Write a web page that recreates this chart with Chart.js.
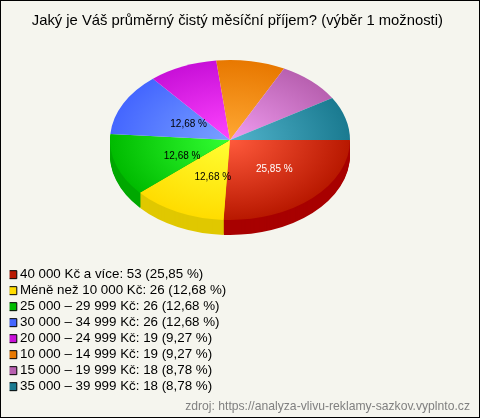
<!DOCTYPE html>
<html>
<head>
<meta charset="utf-8">
<style>
html,body{margin:0;padding:0;background:#f5f5ee}
canvas{display:block}
</style>
<script src="https://cdn.jsdelivr.net/npm/chart.js@4/dist/chart.umd.js"></script>
</head>
<body>
<canvas id="c" width="480" height="418"></canvas>
<script>
/* data */
const titleText = "Jaký je Váš průměrný čistý měsíční příjem? (výběr 1 možnosti)";
const sourceText = "zdroj: https://analyza-vlivu-reklamy-sazkov.vyplnto.cz";
const categories = ["40 000 Kč a více","Méně než 10 000 Kč","25 000 – 29 999 Kč","30 000 – 34 999 Kč","20 000 – 24 999 Kč","10 000 – 14 999 Kč","15 000 – 19 999 Kč","35 000 – 39 999 Kč"];
const counts = [53,26,26,26,19,19,18,18];
const percents = ["25,85","12,68","12,68","12,68","9,27","9,27","8,78","8,78"];
const labelled = [true,true,true,true,false,false,false,false];

/* colours */
const inner = ["#ff5a3c","#ffff33","#33ff33","#7aa2ff","#ff44ff","#ffa833","#f09cf0","#52b4cc"];
const rim = ["#b81800","#ffdc00","#00bb00","#4466ff","#c810d8","#e87800","#b860b0","#1a7a90"];
const side = ["#a80000","#e0c800","#00a800","#2244cc","#9000a0","#b05800","#884080","#105868"];
const labelColor = ["#fff","#000","#000","#000","#000","#000","#000","#000"];

/* pie geometry on the page */
const PIE_X = 230, PIE_Y = 140, RX = 120, RY = 80, DEPTH = 15;
const FONT = "'Liberation Sans', Arial, sans-serif";
// small hand nudges for the slice captions, same order as the slices
const nudgeX = [3,9,9,12], nudgeY = [0,1,4,3];

const tilt = {
    id:"tilt",
    afterLayout(chart){
        // the title sits a bit left of the canvas centre in the original
        chart.titleBlock.left -= 2.5;
        chart.titleBlock.right -= 2.5;
    },
    beforeDraw(chart){
        const {ctx,width,height} = chart;
        ctx.save();
        ctx.fillStyle = "#f5f5ee";
        ctx.fillRect(0,0,width,height);
        ctx.strokeStyle = "#000";
        ctx.lineWidth = 1;
        ctx.strokeRect(.5,.5,width-1,height-1);
        ctx.restore();
    },
    beforeDatasetsDraw(chart){
        const ctx = chart.ctx, arcs = chart.getDatasetMeta(0).data, a = arcs[0];
        const r = a.outerRadius;
        ctx.save();
        ctx.translate(PIE_X,PIE_Y);
        ctx.scale(RX/r,RY/r);
        ctx.translate(-a.x,-a.y);
        // side wall: front slices repeated downwards in the dark colour
        for(let d=DEPTH;d>0;d--){
            arcs.forEach((arc,i)=>{
                if(arc.startAngle>=Math.PI) return;
                const o = arc.options;
                ctx.save();
                ctx.translate(0,d*r/RY);
                arc.options = {...o,backgroundColor:side[i],borderWidth:0};
                arc.draw(ctx);
                arc.options = o;
                ctx.restore();
            });
        }
    },
    afterDatasetsDraw(chart){
        const ctx = chart.ctx, arcs = chart.getDatasetMeta(0).data;
        ctx.restore();
        ctx.save();
        ctx.font = "10px "+FONT;
        ctx.textAlign = "center";
        ctx.textBaseline = "middle";
        arcs.forEach((arc,i)=>{
            if(!labelled[i]) return;
            const mid = (arc.startAngle+arc.endAngle)/2;
            ctx.fillStyle = labelColor[i];
            ctx.fillText(percents[i]+" %",PIE_X+RX*.5*Math.cos(mid)+nudgeX[i],PIE_Y+RY*.5*Math.sin(mid)+nudgeY[i]);
        });
        ctx.restore();
    }
};

new Chart(document.getElementById("c"),{
    type:"pie",
    data:{
        labels:categories,
        datasets:[{
            data:counts,
            clip:false,
            borderWidth:0,
            backgroundColor(c){
                const area = c.chart.chartArea, i = c.dataIndex;
                if(!area) return rim[i];
                const x = (area.left+area.right)/2, y = (area.top+area.bottom)/2;
                const r = Math.min(area.right-area.left,area.bottom-area.top)/2;
                const g = c.chart.ctx.createRadialGradient(x,y,0,x,y,r);
                g.addColorStop(0,inner[i]);
                g.addColorStop(1,rim[i]);
                return g;
            }
        }]
    },
    options:{
        responsive:false,
        animation:false,
        rotation:90,
        layout:{padding:{left:9.65,right:10,top:0,bottom:0}},
        plugins:{
            title:{display:true,text:titleText,color:"#000",font:{family:FONT,size:14.8,weight:"normal"},padding:{top:12,bottom:8}},
            subtitle:{display:true,text:sourceText,position:"bottom",align:"end",color:"#808080",font:{family:FONT,size:12.17,weight:"normal"},padding:{top:3.4,bottom:4}},
            tooltip:{enabled:false},
            legend:{
                position:"left",
                align:"end",
                fullSize:false,
                labels:{
                    color:"#000",
                    font:{family:FONT,size:13.35},
                    usePointStyle:true,
                    boxWidth:1,
                    boxHeight:8,
                    padding:2.65,
                    generateLabels(){
                        return categories.map((name,i)=>({
                            text:`${name}: ${counts[i]} (${percents[i]} %)`,
                            fillStyle:rim[i],
                            strokeStyle:"#000",
                            lineWidth:1,
                            pointStyle:"rect",
                            index:i
                        }));
                    }
                }
            }
        }
    },
    plugins:[tilt]
});
</script>
</body>
</html>
